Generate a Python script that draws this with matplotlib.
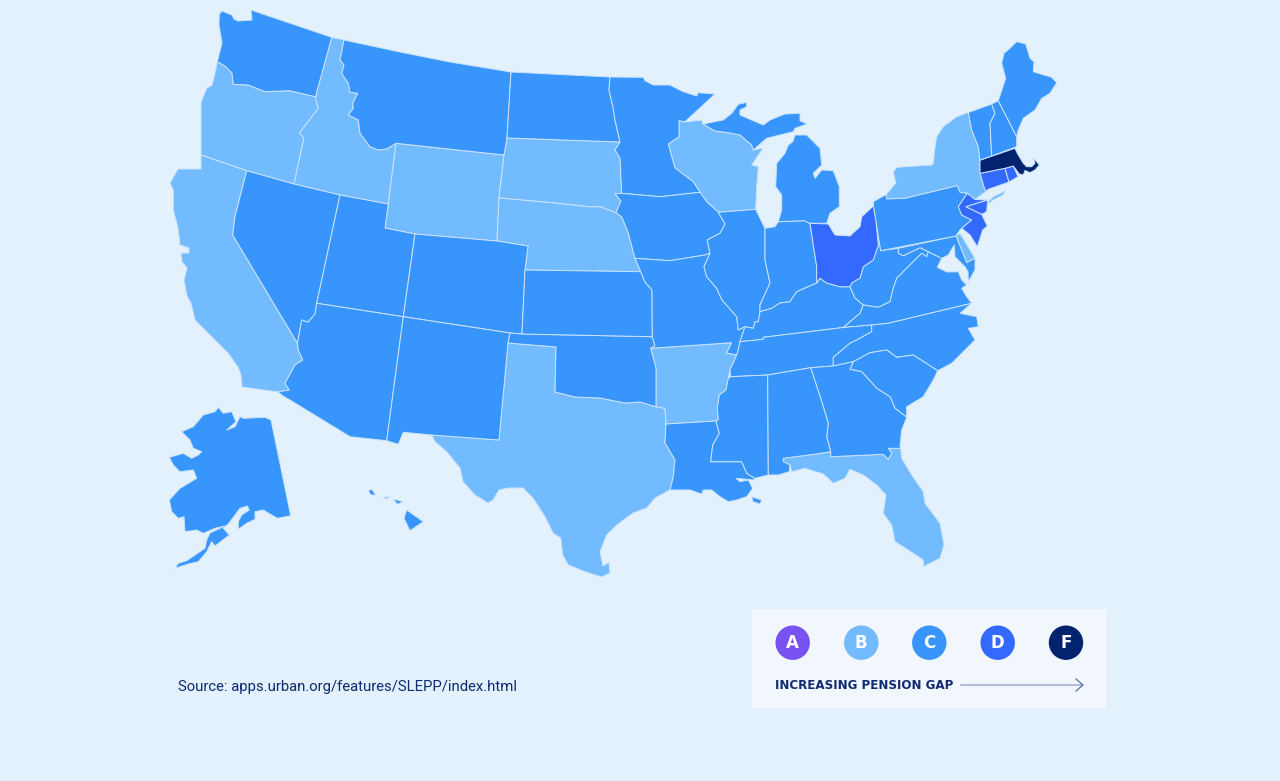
"""US map of pension gap grades by state, traced in image pixels."""

import matplotlib

matplotlib.use("Agg")
import matplotlib.pyplot as plt
from matplotlib.patches import Circle, Polygon, Rectangle

BG = "#E3F1FD"
EDGE = "#CBE3FE"
NAVY = "#0F2A70"
GRADE_COLORS = {"A": "#7851F2", "B": "#73BBFF", "C": "#3895FB", "D": "#3369FF", "F": "#04236F"}

# shared borders
WA_ID = [(331.7, 37.3), (323.3, 68.3), (316.7, 91.7), (315.7, 96.7)]
WA_OR = [(315.7, 96.7), (289.3, 90.7), (265, 91.7), (248.3, 85), (233.3, 84.3), (232, 73), (225, 66), (217.3, 61.7)]
OR_ID = [(294, 184), (301.7, 148.3), (304, 138), (299.3, 133.3), (318.3, 108.3), (315.7, 100), (315.7, 96.7)]
ID_MT = [(344, 40), (340, 60), (344, 65), (341.7, 73.3), (348.3, 83.3), (350, 92.3), (357.7, 93.3), (352.7, 103.3),
         (353.3, 108.3), (348.3, 115), (358.3, 120), (360, 133.3), (370, 146.7), (378.3, 150), (386.7, 149), (396, 143.3)]
CA_AZ = [(278, 392), (289.3, 390), (285, 383.3), (295, 365), (302.7, 360), (298.3, 350), (297.5, 343.3)]
NV_AZ = [(297.5, 343.3), (301.7, 320), (308, 322.3), (315, 314), (316.7, 303.3)]
RED_RIVER = [(555, 392), (575, 397), (600, 398), (625, 403), (640, 402), (656, 406.7)]
TX_LA = [(666, 424), (665, 443), (675, 460), (673.3, 477), (670, 490)]
MN_WI = [(679, 120.7), (679, 136.7), (668.3, 144), (671.7, 156.7), (675, 168), (693.3, 181.7), (700, 192.3)]
WI_UP = [(715, 131), (728.3, 132.7), (740, 135), (751.7, 145), (753.3, 150)]
IL_WEST = [(718.3, 212.3), (725, 224), (720, 233.3), (707.3, 240), (710, 253.3)]
IL_MO = [(710, 253.3), (704, 266.7), (706.7, 276.7), (716.7, 288.3), (722, 300), (736.7, 316.7), (738.3, 330), (745, 326.7)]
IL_IN = [(765, 228.3), (765, 260), (770, 283), (760, 305), (760, 311.7)]
IN_KY = [(760, 311.7), (771.7, 308.3), (780, 303), (790, 301.7), (796.7, 291.7), (816.7, 283)]
OH_KY = [(816.7, 283), (820, 278.3), (826.7, 283), (840, 286.7), (850, 286.7)]
OH_WV = [(850, 286.7), (851.7, 283), (860, 278), (863.3, 266.7), (873.3, 260), (878.3, 245), (876, 221.7)]
WV_VA = [(863.3, 305), (878.3, 307.3), (890, 301.7), (893.3, 288.3), (896.7, 278.3), (908.3, 266.7), (921.7, 253.3),
         (926.7, 256.7), (928.3, 251.7)]
WV_MD = [(928.3, 251.7), (920, 247.7), (903.3, 255.7), (898.3, 253.3), (898.3, 248.3)]
KY_VA = [(843.3, 327.5), (860, 313.3), (863.3, 305)]
KY_WV = [(850, 286.7), (855, 298), (863.3, 305)]
TN_NC = [(871.7, 325), (871.7, 331.7), (856.7, 340), (850, 343.3), (833.3, 357.3), (833.3, 366)]
MS_AR = [(730, 370), (728.3, 378.3), (726, 390), (719.3, 395), (717.3, 408), (718.3, 420), (716, 421)]
MS_LA = [(716, 421), (719.3, 433.3), (712.7, 445), (710.7, 461.7), (741.7, 461.7), (746.7, 473.3), (755, 478.3)]
AL_GA = [(810.7, 367.7), (823.3, 406.7), (828.3, 423.3), (826.7, 436.7), (830.7, 451.7)]
GA_FL = [(830.7, 451.7), (830.7, 456.7), (883.3, 454.3), (888.3, 459.3), (891.7, 453.3), (888.3, 448.3), (900.7, 448.3)]
GA_SC = [(853.3, 361.7), (850, 369.3), (861.7, 371.7), (876.7, 388.3), (890, 396.7), (895, 408.3), (906.7, 417.3)]
NC_SC = [(937.7, 370.7), (913.3, 355), (896.7, 357.3), (886.7, 350), (870, 352.7), (853.3, 361.7)]
PA_NY = [(886, 195), (886.7, 199), (905, 198.3), (957.3, 185.7), (960, 192.3), (967.3, 193.3)]
PA_NJ = [(967.3, 193.3), (958.3, 206.7), (961.7, 215), (971.7, 220), (961.7, 228.3)]
VT_NH = [(991.7, 104), (995, 113.3), (990, 123.3), (991.7, 156)]
NY_VT = [(968.3, 112.5), (971.7, 130), (978.3, 146.7), (980, 160.3)]

# states
WA = [(222, 43), (219, 25), (219.3, 14.3), (222, 11), (232, 15), (234, 19), (238, 21), (252, 20), (251, 10)] + WA_ID + WA_OR
OR = [(217.3, 61.7), (215, 73), (212, 85), (207, 88), (201, 102), (201, 155), (246.7, 170.7)] + OR_ID + WA_OR[1:]
ID = WA_ID[::-1] + ID_MT + [(388.3, 204), (340, 195)] + OR_ID
MT = [(344, 40), (400, 52), (450, 62), (511, 72), (507, 138), (504, 155)] + ID_MT[::-1]
WY = [(396, 143.3), (504, 155), (499, 198), (497, 241), (415, 234), (385, 228), (388.3, 204)]
UT = [(340, 195), (388.3, 204), (385, 228), (415, 234), (403.3, 316.7), (316.7, 303.3)]
NV = [(246.7, 170.7), (294, 184), (340, 195), (316.7, 303.3)] + NV_AZ[::-1] + [(232.7, 235), (235, 216.7)]
CA = [(201, 155), (201, 169), (178, 169), (170, 183), (173.3, 190), (173.3, 210), (178, 228), (180, 245), (189, 248),
      (189, 253), (181, 253), (182, 262), (187, 268), (184, 280), (187, 296), (191, 303), (195, 320), (203, 328),
      (218, 343), (228, 353), (238, 367), (241, 375), (242, 387)] + CA_AZ + [(232.7, 235), (235, 216.7), (246.7, 170.7)]
AZ = [(316.7, 303.3), (403.3, 316.7), (386.7, 440.7), (350, 436.7), (290, 400), (283, 396)] + CA_AZ + NV_AZ[1:]
CO = [(415, 234), (497, 241), (528, 246), (525, 270), (522, 334), (510, 333), (403.3, 316.7)]
NM = [(403.3, 316.7), (510, 333), (508, 343), (499, 440), (431.7, 435), (403.3, 432.3), (398.3, 444.3), (386.7, 440.7)]
TX = [(431.7, 435), (499, 440), (508, 343), (556, 347)] + RED_RIVER + [(665, 408.3)] + TX_LA + [
    (655, 498), (646.7, 508), (633, 513), (616.7, 525), (606.7, 535), (600, 551.7), (603, 566), (609, 562),
    (610, 573), (601.7, 577), (586.7, 572.3), (568.3, 565), (562.7, 555), (560.7, 538), (553, 533), (545, 516.7),
    (533, 498), (523, 488), (508, 488), (499, 490), (493, 500), (488, 503), (475, 495), (463, 481.7), (460, 468),
    (446.7, 451.7), (435, 441.7)]
OK = [(510, 333), (522, 334), (652.3, 336.7), (655, 345.7), (650.7, 348.3), (656, 368.3)] + RED_RIVER[::-1] + [(556, 347), (508, 343)]
KS = [(525, 270), (640.7, 271.7), (645, 282), (652, 290), (652.3, 336.7), (522, 334)]
NE = [(499, 198), (555, 203), (590, 207), (600, 206.7), (616, 212.7), (621.7, 216.7), (628.3, 233), (635, 258.3),
      (640.7, 271.7), (525, 270), (528, 246), (497, 241)]
SD = [(507, 138), (620, 142), (615, 150), (620, 158), (621.7, 193.3), (615, 194), (621, 201), (616, 212.7), (600, 206.7),
      (590, 207), (555, 203), (499, 198), (504, 155)]
ND = [(511, 72), (610, 77), (609, 90), (613, 107), (615, 120), (620, 142), (507, 138)]
MN = [(610, 77), (643.3, 77.3), (645, 80.7), (653.3, 85), (670, 85), (683.3, 91.7), (696.7, 96), (698, 92.7), (715, 94),
      (706.7, 101.7), (685, 121.7)] + MN_WI + [(660, 196.7), (621.7, 193.3), (620, 158), (615, 150), (620, 142),
                                              (615, 120), (613, 107), (609, 90)]
IA = [(621.7, 193.3), (660, 196.7)] + MN_WI[-1:] + [(706.7, 201.7)] + IL_WEST + [(705, 255), (670, 260.7), (635, 258.3),
      (628.3, 233), (621.7, 216.7), (616, 212.7), (621, 201), (615, 194)]
MO = [(635, 258.3), (670, 260.7), (705, 255)] + IL_MO + [(740, 341.7), (738.3, 350), (736.7, 355), (726.7, 353),
      (731.7, 342.7), (650.7, 348.3), (655, 345.7), (652.3, 336.7), (652, 290), (645, 282), (640.7, 271.7)]
AR = [(650.7, 348.3), (731.7, 342.7), (726.7, 353), (736.7, 355)] + MS_AR + [(666, 424), (665, 408.3), (656, 406.7), (656, 368.3)]
LA = TX_LA[::-1][:-1] + [(666, 424)] + MS_LA + [(753.3, 480), (736, 478.3), (740, 481.7), (748.3, 480), (752.7, 488.3),
     (746.7, 496.7), (736.7, 500), (728.3, 501.7), (720, 496.7), (711.7, 490), (703.3, 490), (701.7, 494), (690, 490), (673.3, 490)]
LA_DELTA = [(751.7, 496.7), (761.7, 500), (760, 504), (753, 501.7)]
WI = MN_WI + [(706.7, 201.7), (718.3, 212.3), (755.7, 209.3), (756.7, 186.7), (758.3, 166.7), (751.7, 165),
     (763.3, 148)] + WI_UP[::-1] + [(703, 124), (701.7, 120), (685, 122)]
MI_UP = [(706.7, 123.3), (723.3, 120), (731.7, 113.3), (738.3, 104.3), (746.7, 102.3), (746.7, 106.7), (740, 110),
         (740, 115), (763.3, 125), (770, 120), (785, 114), (800, 113.3), (800, 120.7), (807.3, 124), (795, 128.3),
         (793.3, 131.7), (766.7, 138.3)] + WI_UP[::-1] + [(703, 124)]
MI_LOW = [(795, 135), (806.7, 135), (820, 148.3), (821.7, 165), (813.3, 173.3), (815, 178.3), (821.7, 170), (833.3, 170.7),
          (839.3, 186.7), (839.3, 206.7), (830, 213.3), (826.7, 223.3), (810, 223.3), (804, 220.7), (778.3, 221.7),
          (781.7, 210), (781.7, 195), (775.7, 186.7), (776.7, 163.3), (785, 153.3), (788.3, 145), (792.7, 141.7)]
IL = [(718.3, 212.3), (755.7, 209.3), (763.3, 225)] + IL_IN + [(758.3, 321.7), (755, 321.7), (753.3, 328.3)] + IL_MO[::-1] + IL_WEST[::-1][1:]
IN = [(778.3, 221.7), (775, 226.7)] + IL_IN + IN_KY[1:] + [(816.7, 266.7), (810, 223.3), (804, 220.7)]
OH = [(810, 223.3), (828.3, 224), (835, 235), (850, 236), (860, 226.7), (861.7, 216.7), (873.3, 206)] + OH_WV[::-1] + OH_KY[::-1] + [(816.7, 266.7)]
KY = [(740, 341.7), (745, 326.7), (753.3, 328.3), (755, 321.7), (758.3, 321.7)] + IN_KY + OH_KY[1:] + KY_WV[1:] + KY_VA[::-1][1:] + [(763.3, 337.3), (763.3, 339.3)]
WV = OH_WV + [(880.7, 250.7), (898.3, 248.3)] + WV_MD[::-1][1:] + WV_VA[::-1] + KY_WV[::-1][1:]
VA = KY_VA + WV_VA[1:] + [(941.7, 258.3), (937.3, 267.3), (947, 272), (958.3, 271.7), (961.7, 280), (966.7, 285),
     (961.7, 288.3), (966.7, 296.7), (971.7, 303.3), (888.3, 323.3), (871.7, 325)]
MD = [(898.3, 248.3), (956, 236), (966.7, 262.7), (975, 258.3), (975, 270), (968.3, 281.7), (968, 272), (965, 266.7),
      (955, 256.7), (954.3, 245), (948.3, 255), (941.7, 258.3)] + WV_MD
DE = [(956, 236), (960, 233.3), (975, 258.3), (966.7, 262.7)]
PA = [(873.3, 206), (873.3, 201.7), (883.3, 196)] + PA_NY + PA_NJ[1:] + [(960, 230), (956, 236), (880.7, 250.7), (876, 221.7)]
NY = [(968.3, 112.5), (956.7, 116.7), (943.3, 126.7), (936.7, 136.7), (935, 146.7), (933.3, 163.3), (931.7, 165),
      (896.7, 167.3), (893.3, 172), (895.7, 183), (886, 195)] + PA_NY[1:] + [(975, 199.5), (986, 191.5), (984, 186.7),
      (980, 173.3)] + NY_VT[::-1]
LONG_ISLAND = [(987.7, 202.3), (993.3, 196.7), (1005.7, 190.7), (1003, 195), (993, 200), (989.3, 203.3)]
NJ = [(967.3, 193.3), (975, 199.5), (987.7, 200), (966, 206.7), (981.7, 214.3), (987.3, 226), (982.7, 230), (977.3, 246.7), (970, 235)] + PA_NJ[::-1][:-1]
NJ_TRI = [(966, 206.7), (987.7, 200), (986.7, 211.7), (981.7, 214.3)]
CT = [(980, 173.3), (1005, 168.3), (1009, 182), (988.3, 189.3), (986, 191.5), (984, 186.7)]
RI = [(1005, 168.3), (1013.3, 166), (1018, 176.7), (1009, 182)]
MA = [(980, 160.3), (1015, 148.3), (1017.3, 153.3), (1018.3, 155), (1023.3, 163.3), (1026.7, 166.7), (1031.7, 166.7),
      (1035, 163.3), (1033.3, 158.3), (1036.7, 161.7), (1039.3, 165), (1035, 170), (1030, 172.7), (1025, 170.5),
      (1023.3, 175), (1019.3, 174), (1013.3, 166), (1005, 168.3), (980, 173.3)]
VT = [(968.3, 112.5), (991.7, 104)] + VT_NH[1:] + [(980, 160.3)] + NY_VT[::-1][1:]
NH = [(991.7, 104), (998.3, 100.7), (1016.7, 136.7), (1016.7, 146.7), (991.7, 156)] + VT_NH[::-1][1:]
ME = [(998.3, 100.7), (1005.7, 78.3), (1001.7, 63.3), (1004, 53.3), (1008, 50), (1016.7, 41.7), (1025.7, 44), (1030, 58.3),
      (1034, 61.7), (1033.3, 71.7), (1051.7, 77.3), (1056.7, 82.7), (1050, 93.3), (1041.7, 98.3), (1035, 110), (1023.3, 118.3),
      (1018.3, 130), (1016.7, 136.7)]
TN = [(740, 341.7), (763.3, 339.3), (763.3, 337.3), (843.3, 327.5)] + TN_NC + [(810.7, 367.7), (767.7, 375), (730.7, 376.7), (730, 370), (736.7, 355), (738.3, 350)]
NC = [(871.7, 325), (888.3, 323.3), (971.7, 303.3), (960, 313.3), (976.7, 316.7), (978.3, 326.7), (968.3, 328.3), (975, 340),
      (960, 355), (951.7, 363.3)] + NC_SC + TN_NC[::-1]
SC = NC_SC + GA_SC[1:] + [(906.7, 406.7), (923.3, 396.7), (933.3, 380)]
GA = AL_GA + GA_FL[1:] + [(900, 446), (901.7, 430)] + GA_SC[::-1] + [(833.3, 366)]
MS = [(730.7, 376.7), (767.7, 375), (768.3, 475)] + MS_LA[::-1] + MS_AR[::-1][:-1]
AL = [(767.7, 375)] + AL_GA + [(816, 454), (783.3, 458.3), (783.3, 461.7), (790, 465), (789.3, 471.7), (778.3, 475), (768.3, 475)]
FL = [(782.7, 458.3), (816, 454)] + GA_FL + [(901.7, 458.3), (911.7, 475), (923.3, 491.7), (925, 503.3), (940, 523.3), (944, 545),
     (940, 558.3), (923.3, 566.7), (923.3, 560), (908.3, 550), (895, 541.7), (891.7, 525), (883.3, 513.3), (886, 495),
     (876.7, 485), (863.3, 475), (850, 469.3), (845, 478.3), (833.3, 483.3), (823.3, 474), (810, 470), (805, 468.3),
     (791.7, 471.7), (790, 464.3), (783.3, 463.3)]
AK = [(218.3, 407.3), (223.3, 413.3), (231.7, 411.7), (236, 421.7), (226.7, 430), (235, 426.7), (240, 416.7), (243.3, 418.3),
      (265, 417.3), (271, 420), (290.7, 515.7), (277.3, 518.3), (263.3, 510), (255, 511.7), (255, 519.3), (246.7, 523.3),
      (238.3, 529.3), (238.3, 521.7), (241.7, 515), (249.3, 510), (247.3, 506), (240, 508.3), (228.3, 524), (223.3, 528.3),
      (229.3, 535), (215, 546), (211.7, 541.7), (206.7, 551.7), (198.3, 561.7), (188.3, 564), (175, 568.3), (178.3, 563.3),
      (186.7, 560.7), (205, 548.3), (206.7, 540), (210, 533), (225, 526), (215, 528.3), (203.3, 533.3), (196.7, 530),
      (185, 531.7), (184, 516.7), (178.3, 518.3), (171.7, 511.7), (169.3, 500), (180, 488.3), (196.7, 478.3), (193.3, 470),
      (180, 471.7), (173.3, 465), (169.3, 457.3), (183.3, 453.3), (191.7, 458.3), (198.3, 455), (201.7, 451.7), (193.3, 448.3),
      (190, 440), (181.7, 431.7), (193.3, 426.7), (203.3, 415), (215, 411.7)]
HI_BIG = [(406.7, 510), (423.3, 521.7), (410, 530.7), (404, 518.3)]
HI_MAUI = [(393.3, 499), (403.3, 501.7), (397.3, 504.3)]
HI_OAHU = [(383.3, 497.3), (390.7, 496.7), (386, 499)]
HI_KAUAI = [(368.3, 490.7), (371.7, 489.3), (376, 495), (370.7, 495)]

GRADE_B = [OR, ID, WY, CA, TX, SD, NE, AR, WI, NY, LONG_ISLAND, DE, FL]
GRADE_C = [WA, MT, NV, UT, AZ, CO, NM, OK, KS, ND, MN, IA, MO, LA, LA_DELTA, IL, IN, MI_UP, MI_LOW, KY, WV, VA, MD, PA,
           TN, NC, SC, GA, MS, AL, VT, NH, ME, AK, HI_BIG, HI_MAUI, HI_OAHU, HI_KAUAI]
GRADE_D = [OH, NJ, NJ_TRI, CT, RI]
GRADE_F = [MA]

LEGEND_GRADES = ["A", "B", "C", "D", "F"]
LEGEND_X = [792.7, 861.3, 929.3, 997.7, 1066]

fig = plt.figure(figsize=(12.8, 7.81), dpi=100, facecolor=BG)
ax = fig.add_axes([0, 0, 1, 1])
ax.set_xlim(0, 1280)
ax.set_ylim(781, 0)
ax.axis("off")

for grade, shapes in zip("BCDF", [GRADE_B, GRADE_C, GRADE_D, GRADE_F]):
    for shape in shapes:
        ax.add_patch(Polygon(shape, closed=True, facecolor=GRADE_COLORS[grade], edgecolor=EDGE, linewidth=0.7, joinstyle="round"))

ax.text(178, 687, "Source: apps.urban.org/features/SLEPP/index.html", fontsize=10.7, family="Roboto", color=NAVY, va="center", ha="left")

ax.add_patch(Rectangle((752, 609), 354, 99, facecolor="#F1F7FD", edgecolor="none"))
for grade, x in zip(LEGEND_GRADES, LEGEND_X):
    ax.add_patch(Circle((x, 642.7), 17.2, facecolor=GRADE_COLORS[grade], edgecolor="none"))
    ax.text(x, 643, grade, color="white", fontsize=12, fontweight="bold", family="DejaVu Sans", ha="center", va="center")
ax.text(775, 685.5, "INCREASING PENSION GAP", color=NAVY, fontsize=8.6, fontweight="bold", family="DejaVu Sans", ha="left", va="center")
ax.plot([961, 1082], [685, 685], color="#9AAAD0", linewidth=1.1)
ax.plot([1076, 1083, 1076], [679, 685, 691], color="#5A6FA5", linewidth=0.9)

fig.savefig("out.png", dpi=100, facecolor=BG)
